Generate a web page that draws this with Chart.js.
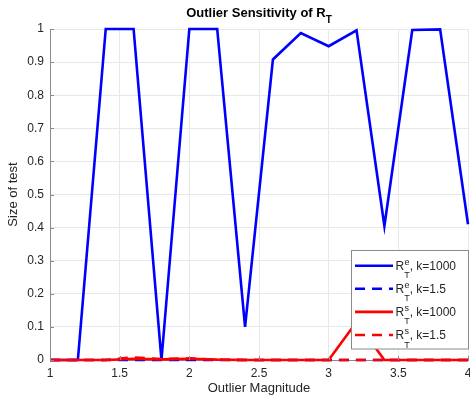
<!DOCTYPE html>
<html>
<head>
<meta charset="utf-8">
<script src="https://cdn.jsdelivr.net/npm/chart.js@4"></script>
<style>
  body { margin: 0; background: #ffffff; }
  #wrap { width: 470px; height: 403px; }
</style>
</head>
<body>
<div id="wrap"><canvas id="myChart" width="470" height="403"></canvas></div>
<script>
// outlier magnitudes
const magnitudes = [1, 1.2, 1.4, 1.6, 1.8, 2, 2.2, 2.4, 2.6, 2.8, 3, 3.2, 3.4, 3.6, 3.8, 4];

// size of test for each statistic
const reK1000 = [0, 0, 1, 1, 0, 1, 1, 0.1, 0.908, 0.988, 0.948, 0.996, 0.405, 0.997, 0.999, 0.41];
const reK15 = [0, 0, 0, 0, 0, 0, 0, 0, 0, 0, 0, 0, 0, 0, 0, 0];
const rsK1000 = [0, 0, 0, 0.004, 0.002, 0.004, 0.001, 0, 0, 0, 0, 0.115, 0, 0, 0, 0];
const rsK15 = [0, 0, 0, 0.008, 0.003, 0.005, 0.001, 0, 0, 0, 0, 0, 0, 0, 0, 0];

const xTicks = [1, 1.5, 2, 2.5, 3, 3.5, 4];
const yTicks = [0, 0.1, 0.2, 0.3, 0.4, 0.5, 0.6, 0.7, 0.8, 0.9, 1];

// legend parts: R^sup_T, k=...
const legendSup = ["e", "e", "s", "s"];
const legendK = ["1000", "1.5", "1000", "1.5"];

const FONT = "'Liberation Sans', Arial, sans-serif";
const TEXT = "#262626";
const AXIS = "#8a8a8a";

const toPoints = (ys) => magnitudes.map((x, i) => ({ x: x, y: ys[i] }));

const makeSet = (ys, color, dashed, order, sup, k) => ({
  data: toPoints(ys),
  borderColor: color,
  backgroundColor: color,
  borderWidth: 2.6,
  borderDash: dashed ? [10, 7] : [],
  pointRadius: 0,
  tension: 0,
  clip: 6,
  order: order,
  sup: sup,
  k: k,
});

// title with subscript T
const titlePlugin = {
  id: "subTitle",
  afterDraw(chart) {
    const ctx = chart.ctx;
    const area = chart.chartArea;
    const main = "Outlier Sensitivity of R";
    ctx.save();
    ctx.fillStyle = "#000000";
    ctx.textBaseline = "alphabetic";
    ctx.font = "bold 13px " + FONT;
    const w1 = ctx.measureText(main).width;
    ctx.font = "bold 10px " + FONT;
    const w2 = ctx.measureText("T").width;
    const cx = (area.left + area.right) / 2;
    let x = cx - (w1 + w2) / 2;
    ctx.font = "bold 13px " + FONT;
    ctx.fillText(main, x, 17);
    ctx.font = "bold 10px " + FONT;
    ctx.fillText("T", x + w1, 23);
    ctx.restore();
  },
};

// inward ticks + legend box
const axesPlugin = {
  id: "matlabBits",
  afterDatasetsDraw(chart) {
    const ctx = chart.ctx;
    const area = chart.chartArea;
    const xs = chart.scales.x;
    const ys = chart.scales.y;
    ctx.save();
    ctx.strokeStyle = AXIS;
    ctx.lineWidth = 1;
    ctx.beginPath();
    yTicks.forEach((v) => {
      const py = Math.round(ys.getPixelForValue(v)) + 0.5;
      ctx.moveTo(area.left, py);
      ctx.lineTo(area.left + 4, py);
    });
    xTicks.forEach((v) => {
      const px = Math.round(xs.getPixelForValue(v)) + 0.5;
      ctx.moveTo(px, area.bottom);
      ctx.lineTo(px, area.bottom - 4);
    });
    ctx.stroke();

    // legend
    const bx = 351.5, by = 250.5, bw = 117, bh = 98.5;
    ctx.fillStyle = "#ffffff";
    ctx.fillRect(bx, by, bw, bh);
    ctx.strokeStyle = AXIS;
    ctx.strokeRect(bx, by, bw, bh);

    const rows = chart.data.datasets;
    rows.forEach((ds, i) => {
      const ly = 265.7 + i * 23.1;
      ctx.strokeStyle = ds.borderColor;
      ctx.lineWidth = ds.borderWidth;
      ctx.setLineDash(ds.borderDash);
      ctx.beginPath();
      ctx.moveTo(355, ly);
      ctx.lineTo(393, ly);
      ctx.stroke();
      ctx.setLineDash([]);

      ctx.fillStyle = TEXT;
      ctx.textBaseline = "alphabetic";
      ctx.font = "12px " + FONT;
      ctx.fillText("R", 395.5, ly + 4);
      const rw = ctx.measureText("R").width;
      ctx.font = "9px " + FONT;
      ctx.fillText(ds.sup, 395.5 + rw + 0.3, ly - 1.2);
      ctx.fillText("T", 395.5 + rw, ly + 12.5);
      ctx.font = "12px " + FONT;
      ctx.fillText(", k=" + ds.k, 395.5 + rw + 5.5, ly + 4);
    });
    ctx.restore();
  },
};

const ctx = document.getElementById("myChart").getContext("2d");
const myChart = new Chart(ctx, {
  type: "line",
  data: {
    datasets: [
      makeSet(reK1000, "#0000ff", false, 4, legendSup[0], legendK[0]),
      makeSet(reK15, "#0000ff", true, 3, legendSup[1], legendK[1]),
      makeSet(rsK1000, "#ff0000", false, 2, legendSup[2], legendK[2]),
      makeSet(rsK15, "#ff0000", true, 1, legendSup[3], legendK[3]),
    ],
  },
  options: {
    responsive: false,
    animation: false,
    devicePixelRatio: 1,
    layout: { padding: { top: 29, right: 2, bottom: 0, left: 0 } },
    plugins: {
      legend: { display: false },
      title: { display: false },
      tooltip: { enabled: false },
    },
    scales: {
      x: {
        type: "linear",
        min: 1,
        max: 4,
        afterBuildTicks: (scale) => {
          scale.ticks = xTicks.map((v) => ({ value: v }));
        },
        afterFit: (scale) => {
          scale.height = 43;
          scale.paddingLeft = 0;
          scale.paddingRight = 0;
        },
        ticks: {
          color: TEXT,
          font: { family: FONT, size: 12 },
          padding: 6,
          maxRotation: 0,
          autoSkip: false,
          callback: (v) => String(Math.round(v * 10) / 10),
        },
        grid: { color: "#e8e8e8", drawTicks: false },
        border: { display: true, color: AXIS },
        title: {
          display: true,
          text: "Outlier Magnitude",
          color: TEXT,
          font: { family: FONT, size: 13 },
          padding: { top: 0, bottom: 7 },
        },
      },
      y: {
        type: "linear",
        min: 0,
        max: 1,
        afterBuildTicks: (scale) => {
          scale.ticks = yTicks.map((v) => ({ value: v }));
        },
        afterFit: (scale) => {
          scale.width = 50;
          scale.paddingTop = 0;
          scale.paddingBottom = 0;
        },
        ticks: {
          color: TEXT,
          font: { family: FONT, size: 12 },
          padding: 6,
          autoSkip: false,
          callback: (v) => String(Math.round(v * 10) / 10),
        },
        grid: { color: "#e8e8e8", drawTicks: false },
        border: { display: true, color: AXIS },
        title: {
          display: true,
          text: "Size of test",
          color: TEXT,
          font: { family: FONT, size: 13 },
          padding: { top: 6, bottom: 0 },
        },
      },
    },
  },
  plugins: [titlePlugin, axesPlugin],
});
</script>
</body>
</html>
